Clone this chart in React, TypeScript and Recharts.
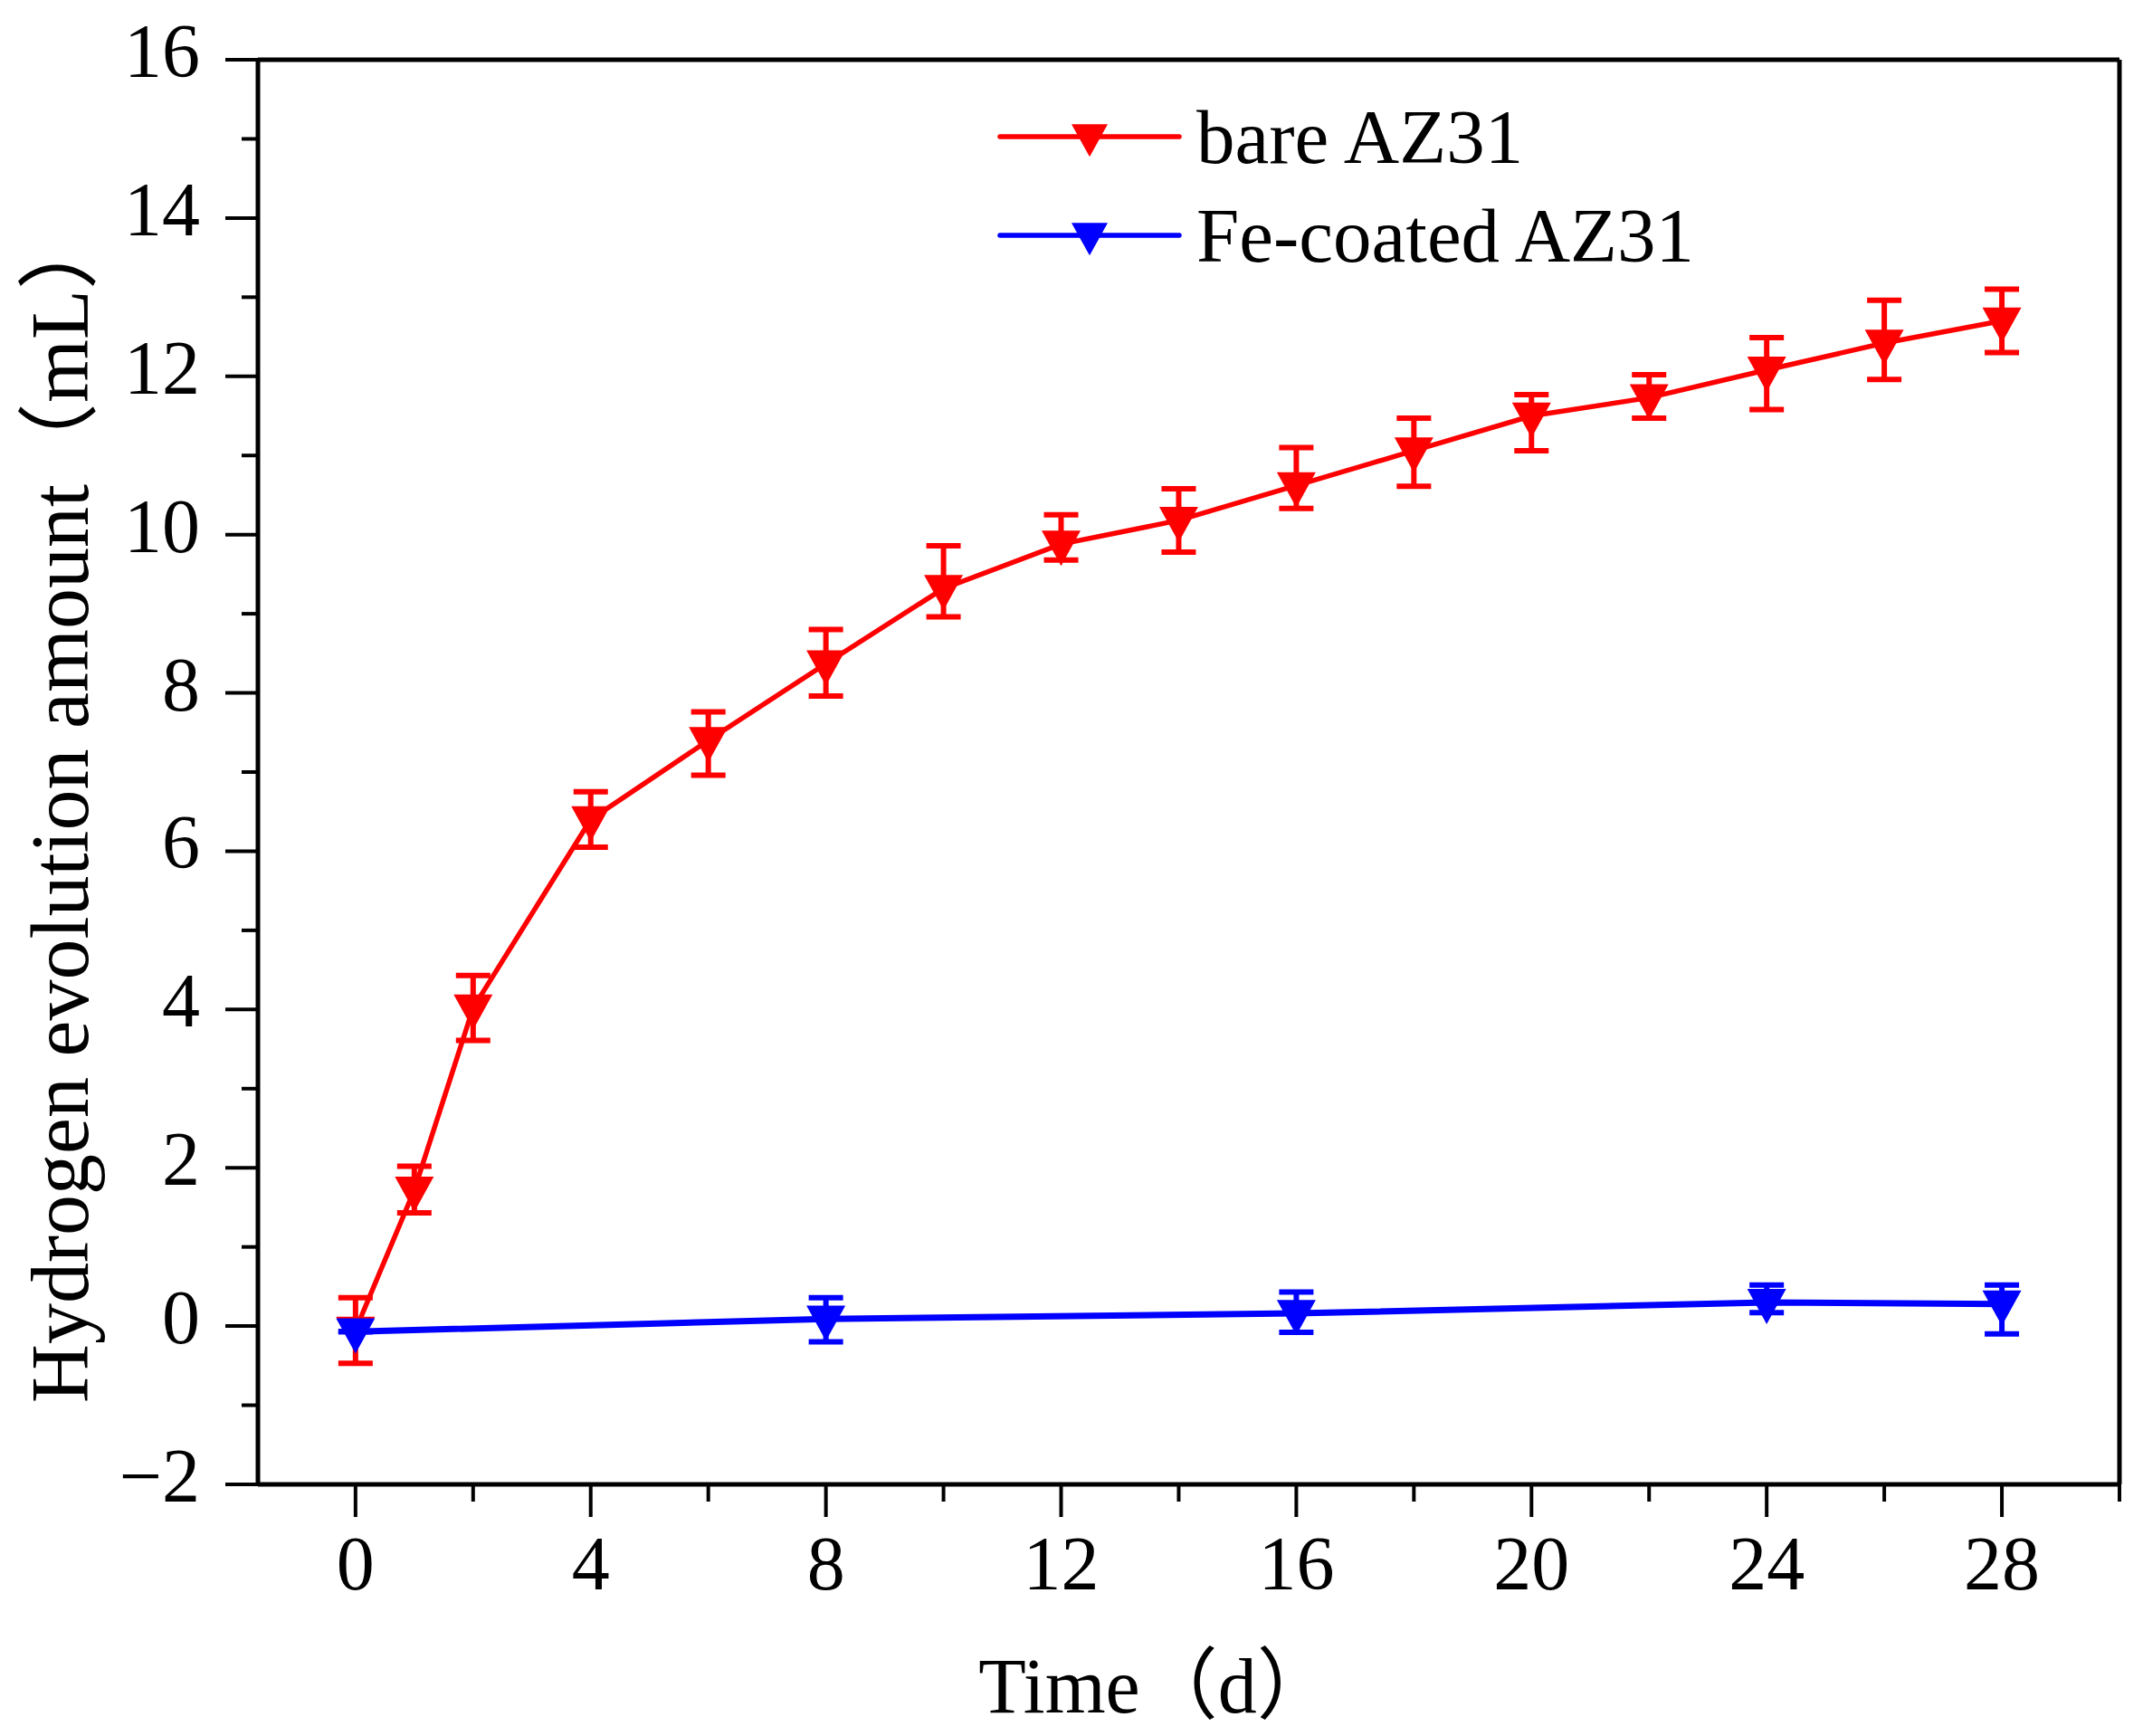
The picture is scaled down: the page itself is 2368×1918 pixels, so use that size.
import { LineChart, Line, XAxis, YAxis, ErrorBar, ReferenceLine, Legend } from 'recharts'

// bare AZ31 (red)
const redDays = [0, 1, 2, 4, 6, 8, 10, 12, 14, 16, 18, 20, 22, 24, 26, 28]
const redMean = [-0.05, 1.72, 4.02, 6.4, 7.4, 8.37, 9.32, 9.88, 10.18, 10.62, 11.06, 11.5, 11.73, 12.08, 12.42, 12.7]
const redErrLow = [0.42, 0.29, 0.41, 0.35, 0.44, 0.41, 0.36, 0.2, 0.4, 0.29, 0.45, 0.44, 0.26, 0.5, 0.46, 0.4]
const redErrHigh = [0.41, 0.3, 0.41, 0.35, 0.36, 0.43, 0.54, 0.37, 0.4, 0.48, 0.41, 0.27, 0.29, 0.41, 0.54, 0.4]

// Fe-coated AZ31 (blue)
const blueDays = [0, 8, 16, 24, 28]
const blueMean = [-0.07, 0.09, 0.16, 0.3, 0.28]
const blueErrLow = [0, 0.29, 0.24, 0.13, 0.38]
const blueErrHigh = [0, 0.27, 0.27, 0.22, 0.24]

const xTicks = [0, 2, 4, 6, 8, 10, 12, 14, 16, 18, 20, 22, 24, 26, 28, 30]
const xLabelled = [0, 4, 8, 12, 16, 20, 24, 28]
const yTicks = [-2, -1, 0, 1, 2, 3, 4, 5, 6, 7, 8, 9, 10, 11, 12, 13, 14, 15, 16]

const seriesNames = ['bare AZ31', 'Fe-coated AZ31']
const RED = '#ff0000'
const BLUE = '#0000ff'
const FONT = "'Liberation Serif', 'Times New Roman', 'Noto Sans CJK SC', serif"

const redData = redDays.map((t, i) => ({ t, v: redMean[i], err: [redErrLow[i], redErrHigh[i]] }))
const blueData = blueDays.map((t, i) => ({ t, v: blueMean[i], err: [blueErrLow[i], blueErrHigh[i]] }))

const tri = (cx: number, cy: number, w: number, h: number) =>
  `${cx - w / 2},${cy - h * 0.38} ${cx + w / 2},${cy - h * 0.38} ${cx},${cy + h * 0.62}`

const makeDot = (fill: string, pre: string) => (p: any) => {
  if (p.cx == null || p.cy == null) return <g key={`${pre}${p.index}`} />
  return <polygon key={`${pre}${p.index}`} points={tri(p.cx, p.cy, 43, 39)} fill={fill} />
}

const XTick = ({ x, y, payload }: any) => {
  const v = payload.value
  const major = xLabelled.includes(v)
  return (
    <g>
      <line x1={x} x2={x} y1={y} y2={y + (major ? 36 : 19)} stroke="#000" strokeWidth={4} />
      {major && (
        <text x={x} y={y + 116} textAnchor="middle" fontSize={84} fontFamily={FONT} fill="#000">{v}</text>
      )}
    </g>
  )
}

const YTick = ({ x, y, payload }: any) => {
  const v = payload.value
  const major = v % 2 === 0
  return (
    <g>
      <line x1={x - (major ? 36 : 18)} x2={x} y1={y} y2={y} stroke="#000" strokeWidth={4} />
      {major && (
        <text x={x - 64} y={y + 19} textAnchor="end" fontSize={84} fontFamily={FONT} fill="#000">
          {v < 0 ? `\u2212${-v}` : v}
        </text>
      )}
    </g>
  )
}

const YTitle = () => (
  <text x={97} y={890} transform="rotate(-90 97 890)" textAnchor="middle" fontSize={90} fontFamily={FONT} fill="#000">
    Hydrogen evolution amount（mL）
  </text>
)

const XTitle = () => (
  <text x={1278} y={1892} textAnchor="middle" fontSize={86} fontFamily={FONT} fill="#000">
    Time（d）
  </text>
)

const LegendBox = ({ payload }: any) => {
  const rows = [...(payload || [])].sort(
    (a: any, b: any) => seriesNames.indexOf(a.value) - seriesNames.indexOf(b.value)
  )
  return (
    <svg width={1000} height={230}>
      {rows.map((e: any, i: number) => {
        const cy = 56 + i * 109
        return (
          <g key={e.value}>
            <line x1={5} x2={203} y1={cy} y2={cy} stroke={e.color} strokeWidth={5.5} strokeLinecap="round" />
            <polygon points={tri(104, cy, 40, 36)} fill={e.color} />
            <text x={222} y={cy + 29} fontSize={85} fontFamily={FONT} fill="#000">{e.value}</text>
          </g>
        )
      })}
    </svg>
  )
}

export default function App() {
  return (
    <div style={{ position: 'absolute', left: 0, top: 0, background: '#fff' }}>
      <LineChart width={2368} height={1918} margin={{ top: 66, right: 26, bottom: 0, left: 0 }}>
        <XAxis
          dataKey="t" type="number" domain={[-1.66, 30]} allowDataOverflow
          ticks={xTicks} interval={0} tickSize={0} tickMargin={0} tickLine={false}
          tick={<XTick />} height={278}
          axisLine={{ stroke: '#000', strokeWidth: 5 }}
          label={<XTitle />}
        />
        <YAxis
          type="number" domain={[-2, 16]} allowDataOverflow
          ticks={yTicks} interval={0} tickSize={0} tickMargin={0} tickLine={false}
          tick={<YTick />} width={285}
          axisLine={{ stroke: '#000', strokeWidth: 5 }}
          label={<YTitle />}
        />
        <ReferenceLine y={16} stroke="#000" strokeWidth={5} />
        <ReferenceLine x={30} stroke="#000" strokeWidth={5} />
        <Legend layout="vertical" align="center" verticalAlign="middle"
          wrapperStyle={{ left: 1100, top: 95, width: 1000, height: 230 }}
          content={<LegendBox />} />
        <Line data={redData} dataKey="v" name={seriesNames[0]} type="linear"
          stroke={RED} strokeWidth={5.5} dot={makeDot(RED, 'r')} activeDot={false}
          isAnimationActive={false}>
          <ErrorBar dataKey="err" direction="y" width={19} stroke={RED} strokeWidth={6} isAnimationActive={false} />
        </Line>
        <Line data={blueData} dataKey="v" name={seriesNames[1]} type="linear"
          stroke={BLUE} strokeWidth={7} dot={makeDot(BLUE, 'b')} activeDot={false}
          isAnimationActive={false}>
          <ErrorBar dataKey="err" direction="y" width={19} stroke={BLUE} strokeWidth={6} isAnimationActive={false} />
        </Line>
      </LineChart>
    </div>
  )
}
